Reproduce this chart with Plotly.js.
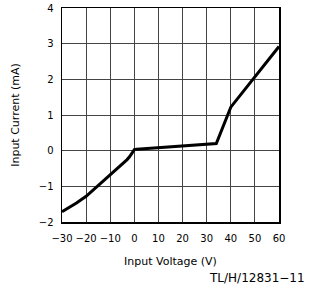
<!DOCTYPE html>
<html>
<head>
<meta charset="utf-8">
<script src="https://cdn.plot.ly/plotly-3.0.1.min.js"></script>
<style>html,body{margin:0;padding:0;background:#fff;}#chart{width:309px;height:297px;}</style>
</head>
<body>
<div id="chart"></div>
<script>
const voltage = [-30, -27, -24, -20, -15, -10, -5, -3, -2, -1.2, -0.5, 0, 1, 34, 40, 60];
const current = [-1.71, -1.6, -1.47, -1.28, -0.98, -0.68, -0.38, -0.25, -0.17, -0.08, -0.01, 0.03, 0.04, 0.2, 1.22, 2.92];
const xTicks = [-30, -20, -10, 0, 10, 20, 30, 40, 50, 60];
const yTicks = [-2, -1, 0, 1, 2, 3, 4];

const fam = 'DejaVu Sans, Arial, sans-serif';
const font = {family: fam, size: 11, color: '#000'};
const tfont = {family: fam, size: 10, color: '#000'};

Plotly.newPlot('chart', [{
  x: voltage, y: current, mode: 'lines', type: 'scatter',
  line: {color: '#000', width: 3}
}], {
  width: 309, height: 297,
  margin: {l: 62, r: 30, t: 8, b: 75},
  paper_bgcolor: '#fff', plot_bgcolor: '#fff',
  showlegend: false,
  font: font,
  xaxis: {
    range: [-30, 60], tickvals: xTicks, ticktext: xTicks.map(v => v < 0 ? '\u2212' + Math.abs(v) : String(v)),
    showgrid: true, gridcolor: '#444', gridwidth: 1,
    showline: true, linecolor: '#000', linewidth: 1.5, mirror: true,
    zeroline: false, ticks: '', tickfont: tfont, tickangle: 0, ticklabelstandoff: 6,
    title: {text: 'Input Voltage (V)', font: font, standoff: 15}
  },
  yaxis: {
    range: [-2, 4], tickvals: yTicks, ticktext: yTicks.map(v => v < 0 ? '\u2212' + Math.abs(v) : String(v)),
    showgrid: true, gridcolor: '#444', gridwidth: 1,
    showline: true, linecolor: '#000', linewidth: 1.5, mirror: true,
    zeroline: false, ticks: '', tickfont: tfont, ticklabelstandoff: 5,
    title: {text: 'Input Current (mA)', font: font, standoff: 17}
  },
  annotations: [{
    text: 'TL/H/12831\u221211', xref: 'paper', yref: 'paper',
    x: 1.13, y: -0.26, xanchor: 'right', yanchor: 'middle', showarrow: false,
    font: {family: fam, size: 12, color: '#000'}
  }]
}, {displayModeBar: false, staticPlot: true});
</script>
</body>
</html>
